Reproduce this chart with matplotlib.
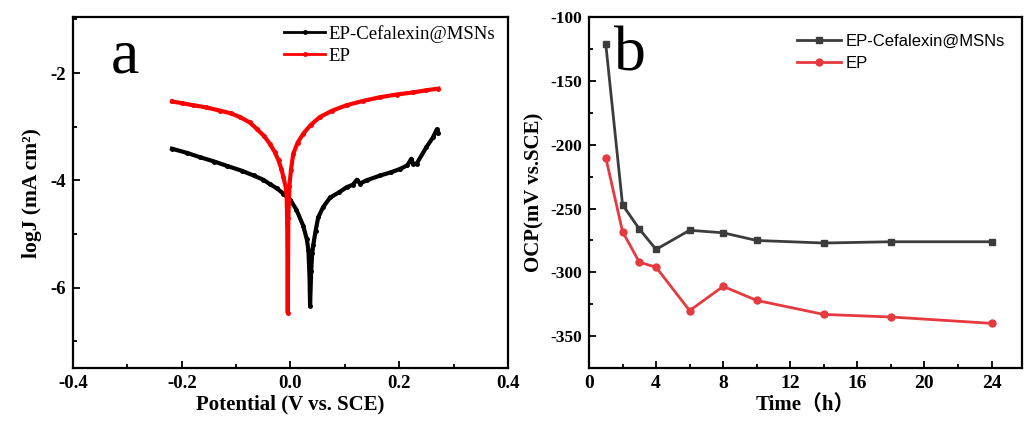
import matplotlib.pyplot as plt
from matplotlib.ticker import MultipleLocator

plt.rcParams['axes.unicode_minus'] = False

# Tafel curves (potential in V vs. SCE, log current density)
e_msn = [-0.218, -0.19, -0.166, -0.14, -0.117, -0.09, -0.068, -0.05, -0.038, -0.025,
         -0.013, 0.0, 0.011, 0.0235, 0.030, 0.033, 0.035, 0.036, 0.038, 0.040,
         0.042, 0.046, 0.051, 0.06, 0.073, 0.09, 0.103, 0.115, 0.122, 0.128,
         0.140, 0.165, 0.185, 0.201, 0.215, 0.222, 0.226, 0.232, 0.250, 0.262,
         0.269, 0.272]
logj_msn = [-3.41, -3.49, -3.57, -3.65, -3.73, -3.82, -3.91, -3.99, -4.07, -4.15,
            -4.25, -4.37, -4.55, -4.85, -5.1, -5.3, -5.8, -6.34, -5.7, -5.35,
            -5.2, -4.95, -4.69, -4.5, -4.32, -4.22, -4.13, -4.08, -3.99, -4.06,
            -4.0, -3.91, -3.85, -3.79, -3.72, -3.60, -3.70, -3.69, -3.38, -3.20,
            -3.05, -3.12]

e_ep = [-0.218, -0.20, -0.179, -0.155, -0.130, -0.11, -0.093, -0.075, -0.062, -0.048,
        -0.038, -0.029, -0.022, -0.017, -0.013, -0.009, -0.007, -0.006, -0.005, -0.004,
        -0.002, 0.001, 0.005, 0.013, 0.0235, 0.037, 0.054, 0.077, 0.103, 0.133,
        0.165, 0.195, 0.226, 0.250, 0.272]
logj_ep = [-2.53, -2.56, -2.60, -2.64, -2.70, -2.75, -2.82, -2.92, -3.04, -3.18,
           -3.32, -3.47, -3.63, -3.78, -3.94, -4.12, -4.3, -4.8, -6.47, -4.7,
           -4.1, -3.8, -3.51, -3.30, -3.13, -2.97, -2.82, -2.70, -2.60, -2.52,
           -2.45, -2.40, -2.36, -2.32, -2.29]

# Open circuit potential vs immersion time
time_h = [1, 2, 3, 4, 6, 8, 10, 14, 18, 24]
ocp_msn = [-121, -247, -266, -282, -267, -269, -275, -277, -276, -276]
ocp_ep = [-210, -268, -292, -296, -330, -311, -322, -333, -335, -340]

serif = 'Liberation Serif'
sans = 'Liberation Sans'

fig = plt.figure(figsize=(10.29, 4.21), dpi=100)
ax1 = fig.add_axes([0.0709, 0.1259, 0.4228, 0.833])
ax2 = fig.add_axes([0.5724, 0.1259, 0.4205, 0.833])

# ---- panel a ----
ax1.plot(e_msn, logj_msn, color='black', lw=3, marker='o', ms=2.5,
         label='EP-Cefalexin@MSNs')
ax1.plot(e_ep, logj_ep, color='#ff0000', lw=3, marker='o', ms=2.5, label='EP')
ax1.set_xlim(-0.4, 0.4)
ax1.set_ylim(-7.5, -0.96)
ax1.xaxis.set_major_locator(MultipleLocator(0.2))
ax1.xaxis.set_minor_locator(MultipleLocator(0.1))
ax1.yaxis.set_major_locator(MultipleLocator(2))
ax1.yaxis.set_minor_locator(MultipleLocator(1))
ax1.set_xlabel('Potential (V vs. SCE)', family=serif, fontweight='bold', fontsize=15, labelpad=2)
ax1.set_ylabel('logJ (mA cm²)', family=serif, fontweight='bold', fontsize=15.5, labelpad=6)
for lab in ax1.get_xticklabels() + ax1.get_yticklabels():
    lab.set_family(serif)
    lab.set_fontweight('bold')
    lab.set_fontsize(13.5)
leg1 = ax1.legend(loc='upper right', bbox_to_anchor=(1.0, 1.015), frameon=False,
                  prop={'family': serif, 'size': 13.5}, handlelength=2.2,
                  handletextpad=0.15, labelspacing=0.25, borderaxespad=0.3)
for h in leg1.legend_handles:
    h.set_linewidth(2)
ax1.text(0.12, 0.885, 'a', transform=ax1.transAxes, family=serif, fontsize=46,
         ha='center', va='center')

# ---- panel b ----
ax2.plot(time_h, ocp_msn, color='#3c3c3c', lw=2, marker='s', ms=5,
         label='EP-Cefalexin@MSNs')
ax2.plot(time_h, ocp_ep, color='#e53a3f', lw=2, marker='o', ms=5, label='EP')
ax2.set_xlim(0, 25.8)
ax2.set_ylim(-375, -100)
ax2.xaxis.set_major_locator(MultipleLocator(4))
ax2.xaxis.set_minor_locator(MultipleLocator(2))
ax2.yaxis.set_major_locator(MultipleLocator(50))
ax2.yaxis.set_minor_locator(MultipleLocator(25))
ax2.set_xlabel('Time（h）', family=[serif, 'Noto Sans CJK SC'], fontweight='bold',
               fontsize=15, labelpad=2)
ax2.set_ylabel('OCP(mV vs.SCE)', family=serif, fontweight='bold', fontsize=15, labelpad=4)
for lab in ax2.get_xticklabels():
    lab.set_family(serif)
    lab.set_fontweight('bold')
    lab.set_fontsize(14)
for lab in ax2.get_yticklabels():
    lab.set_family(serif)
    lab.set_fontweight('bold')
    lab.set_fontsize(12.5)
ax2.legend(loc='upper right', bbox_to_anchor=(1.0, 1.0), frameon=False,
           prop={'family': sans, 'size': 12}, handlelength=2.6, handletextpad=0.3,
           labelspacing=0.4, borderaxespad=0.6)
ax2.text(0.095, 0.89, 'b', transform=ax2.transAxes, family=serif, fontsize=46,
         ha='center', va='center')

for ax in (ax1, ax2):
    for s in ax.spines.values():
        s.set_linewidth(1.6)
    ax.tick_params(which='both', direction='in', width=1.3)
    ax.tick_params(which='major', length=5, pad=5)
    ax.tick_params(which='minor', length=3)

fig.savefig('out.png', dpi=100)
